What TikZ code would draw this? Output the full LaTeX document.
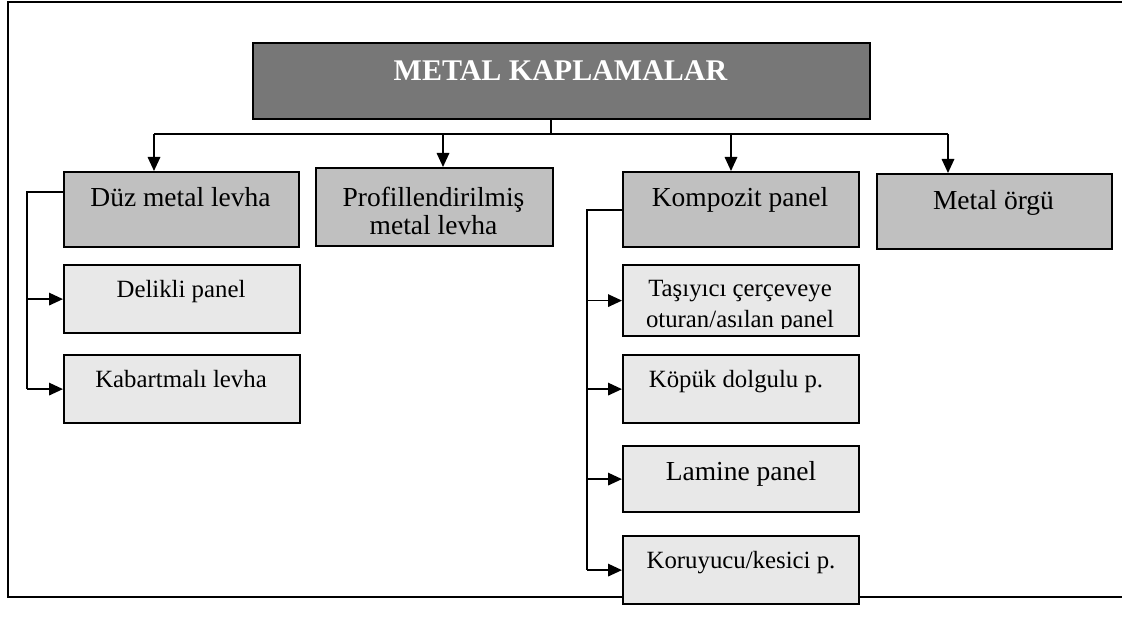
\documentclass[tikz,border=0pt]{standalone}
\usepackage{fontspec}
\setmainfont{Liberation Serif}
\usetikzlibrary{arrows.meta}
\definecolor{titlegray}{HTML}{777777}
\definecolor{midgray}{HTML}{C0C0C0}
\definecolor{lightgray}{HTML}{E8E8E8}
\tikzset{
  boxbase/.style={draw=black, line width=2.2pt, inner sep=0pt, anchor=north west},
  titlebox/.style={boxbase, fill=titlegray},
  mainbox/.style={boxbase, fill=midgray},
  subbox/.style={boxbase, fill=lightgray},
  bigtext/.style={anchor=base, inner sep=0pt, font=\fontsize{27.5}{30}\selectfont},
  smalltext/.style={anchor=base, inner sep=0pt, font=\fontsize{24.8}{28}\selectfont},
  titletext/.style={anchor=base, inner sep=0pt, text=white, font=\fontsize{30}{34}\selectfont\bfseries},
  link/.style={line width=1.7pt},
  arr/.style={line width=1.7pt, -{Triangle[length=14pt,width=12.5pt]}},
}
\begin{document}
\begin{tikzpicture}[x=1pt, y=-1pt]
\useasboundingbox (0,0) rectangle (1122,620);
% frame (open on the right)
\draw[line width=2pt] (1122,2.5) -- (8,2.5) -- (8,597) -- (1122,597);

% boxes
\node[titlebox, minimum width=617pt, minimum height=76pt] (T) at (252,42) {};
\node[titletext] (Tt) at (560.5,80.5) {METAL KAPLAMALAR};

\node[mainbox, minimum width=235pt, minimum height=75pt] (duz) at (63,171) {};
\node[bigtext] (duzt) at (180.5,207) {Düz metal levha};

\node[mainbox, minimum width=237pt, minimum height=78pt] (prof) at (315,167) {};
\node[bigtext] (proft1) at (433.5,206.5) {Profillendirilmiş};
\node[bigtext] (proft2) at (433.5,235) {metal levha};

\node[mainbox, minimum width=236pt, minimum height=75pt] (komp) at (622,171) {};
\node[bigtext] (kompt) at (740,207) {Kompozit panel};

\node[mainbox, minimum width=235pt, minimum height=75pt] (orgu) at (876,173) {};
\node[bigtext] (orgut) at (993.5,210) {Metal örgü};

\node[subbox, minimum width=236pt, minimum height=68pt] (del) at (63,264) {};
\node[smalltext] (delt) at (181,298) {Delikli panel};

\node[subbox, minimum width=236pt, minimum height=68pt] (kab) at (63,354) {};
\node[smalltext] (kabt) at (181,388) {Kabartmalı levha};

\node[subbox, minimum width=236pt, minimum height=71pt] (tas) at (622,264) {};
\node[smalltext] (tast1) at (740,297) {Taşıyıcı çerçeveye};
\begin{scope}
  \clip (622,300) rectangle (858,328.5);
  \node[smalltext] (tast2) at (740,327.5) {oturan/asılan panel};
\end{scope}

\node[subbox, minimum width=236pt, minimum height=68pt] (kop) at (622,354) {};
\node[smalltext] (kopt) at (736,388) {Köpük dolgulu p.};

\node[subbox, minimum width=236pt, minimum height=66pt] (lam) at (622,445) {};
\node[bigtext] (lamt) at (741,480) {Lamine panel};

\node[subbox, minimum width=236pt, minimum height=68pt] (kor) at (622,535) {};
\node[smalltext] (kort) at (741,568) {Koruyucu/kesici p.};

% top-level connectors
\coordinate (bus) at (551,134);
\coordinate (b1) at (154,134);
\coordinate (b2) at (443,134);
\coordinate (b3) at (731,134);
\coordinate (b4) at (948,134);
\draw[link] (T.south -| bus) -- (bus);
\draw[link] (b1) -- (b4);
\draw[arr] (b1) -- (b1 |- duz.north);
\draw[arr] (b2) -- (b2 |- prof.north);
\draw[arr] (b3) -- (b3 |- komp.north);
\draw[arr] (b4) -- (b4 |- orgu.north);

% left bracket
\coordinate (L1) at (27,192);
\draw[link] (duz.west |- L1) -- (L1) -- (L1 |- kab.west);
\draw[arr] (L1 |- del.west) -- (del.west);
\draw[arr] (L1 |- kab.west) -- (kab.west);

% kompozit bracket
\coordinate (K1) at (587,210);
\draw[link] (komp.west |- K1) -- (K1) -- (K1 |- kor.west);
\draw[arr] (K1 |- tas.west) -- (tas.west);
\draw[arr] (K1 |- kop.west) -- (kop.west);
\draw[arr] (K1 |- lam.west) -- (lam.west);
\draw[arr] (K1 |- kor.west) -- (kor.west);
\end{tikzpicture}
\end{document}
